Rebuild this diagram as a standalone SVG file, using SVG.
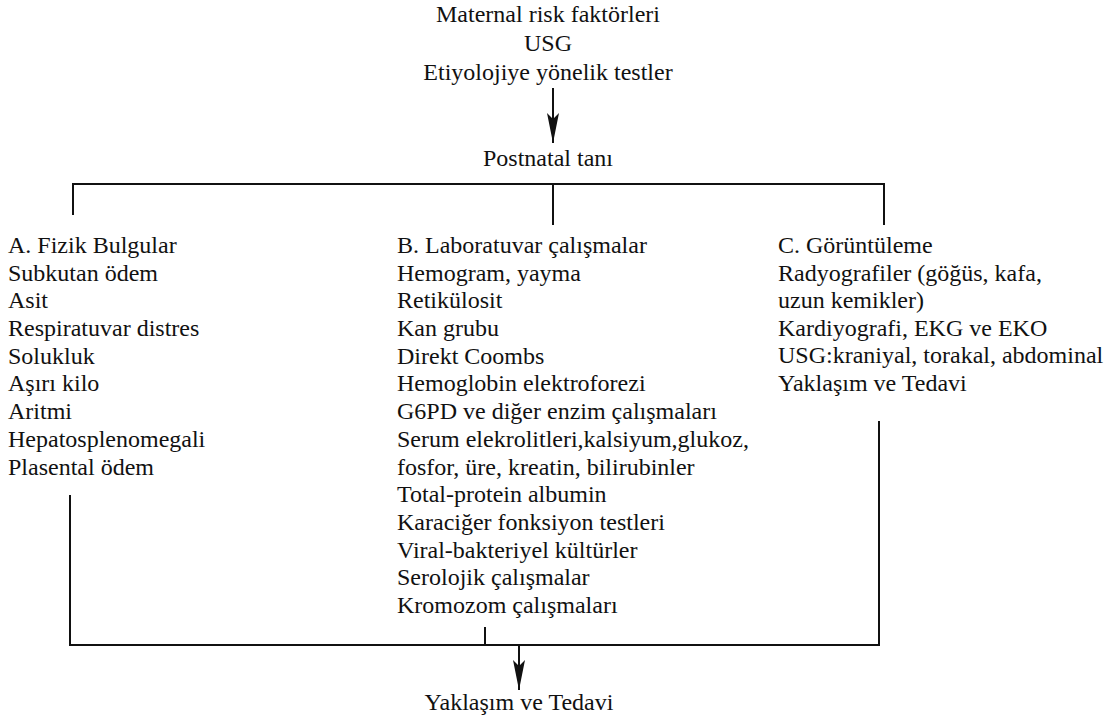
<svg xmlns="http://www.w3.org/2000/svg" width="1110" height="718" viewBox="0 0 1110 718">
<style>
text{font-family:"Liberation Serif","Times New Roman",serif;font-size:24px;fill:#111}
.c{text-anchor:middle}
.ln{stroke:#111;stroke-width:2;fill:none}
</style>
<defs>
<marker id="ah" markerUnits="userSpaceOnUse" markerWidth="32" markerHeight="14" refX="30" refY="7" orient="auto" viewBox="0 0 32 14">
<path d="M0,1 L6,7 L0,13 L30,7 Z" fill="#111"/>
</marker>
</defs>
<rect width="1110" height="718" fill="#fff"/>
<g id="top">
<text class="c" x="548" y="22">Maternal risk faktörleri</text>
<text class="c" x="548" y="51">USG</text>
<text class="c" x="548" y="80">Etiyolojiye yönelik testler</text>
</g>
<g id="postnatal"><text class="c" x="548" y="166">Postnatal tanı</text></g>
<g id="colA">
<text x="8" y="253">A. Fizik Bulgular</text>
<text x="8" y="281">Subkutan ödem</text>
<text x="8" y="308">Asit</text>
<text x="8" y="336">Respiratuvar distres</text>
<text x="8" y="364">Solukluk</text>
<text x="8" y="391">Aşırı kilo</text>
<text x="8" y="419">Aritmi</text>
<text x="8" y="447">Hepatosplenomegali</text>
<text x="8" y="475">Plasental ödem</text>
</g>
<g id="colB">
<text x="397" y="253">B. Laboratuvar çalışmalar</text>
<text x="397" y="281">Hemogram, yayma</text>
<text x="397" y="308">Retikülosit</text>
<text x="397" y="336">Kan grubu</text>
<text x="397" y="364">Direkt Coombs</text>
<text x="397" y="391">Hemoglobin elektroforezi</text>
<text x="397" y="419">G6PD ve diğer enzim çalışmaları</text>
<text x="397" y="447">Serum elekrolitleri,kalsiyum,glukoz,</text>
<text x="397" y="475">fosfor, üre, kreatin, bilirubinler</text>
<text x="397" y="502">Total-protein albumin</text>
<text x="397" y="530">Karaciğer fonksiyon testleri</text>
<text x="397" y="558">Viral-bakteriyel kültürler</text>
<text x="397" y="585">Serolojik çalışmalar</text>
<text x="397" y="613">Kromozom çalışmaları</text>
</g>
<g id="colC">
<text x="778" y="253">C. Görüntüleme</text>
<text x="778" y="281">Radyografiler (göğüs, kafa,</text>
<text x="778" y="308">uzun kemikler)</text>
<text x="778" y="336">Kardiyografi, EKG ve EKO</text>
<text x="778" y="363">USG:kraniyal, torakal, abdominal</text>
<text x="778" y="391">Yaklaşım ve Tedavi</text>
</g>
<g id="result"><text class="c" x="519" y="710">Yaklaşım ve Tedavi</text></g>
<g id="connectors">
<line class="ln" x1="553" y1="88" x2="553" y2="143" marker-end="url(#ah)"/>
<polyline class="ln" points="73,215 73,184 884,184 884,225"/>
<line class="ln" x1="553" y1="184" x2="553" y2="225"/>
<polyline class="ln" points="70,495 70,645 879,645 879,421"/>
<line class="ln" x1="485" y1="627" x2="485" y2="645"/>
<line class="ln" x1="519" y1="645" x2="519" y2="690" marker-end="url(#ah)"/>
</g>
</svg>
